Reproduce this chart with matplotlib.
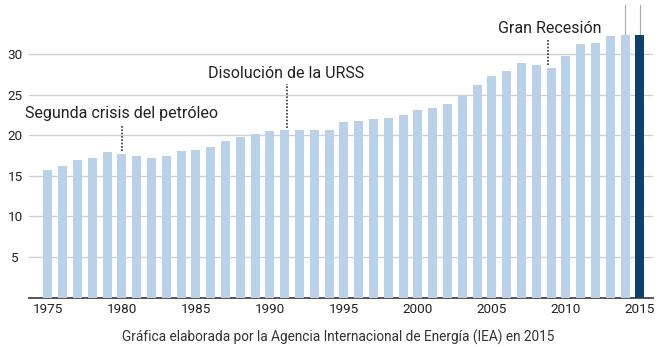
import matplotlib
matplotlib.use("Agg")
import matplotlib.pyplot as plt

plt.rcParams['font.family'] = ['Roboto', 'DejaVu Sans']

years = list(range(1975, 2016))
values = [15.7, 16.2, 16.9, 17.2, 17.9, 17.7, 17.4, 17.2, 17.5, 18.0,
          18.2, 18.6, 19.3, 19.8, 20.2, 20.5, 20.6, 20.7, 20.6, 20.7,
          21.6, 21.7, 22.0, 22.1, 22.5, 23.1, 23.4, 23.9, 24.9, 26.2,
          27.3, 27.9, 28.9, 28.7, 28.3, 29.8, 31.2, 31.4, 32.2, 32.3,
          32.4]
yticks = [5, 10, 15, 20, 25, 30]
xticks = [1975, 1980, 1985, 1990, 1995, 2000, 2005, 2010, 2015]
annotations = [
    ("Segunda crisis del petróleo", 1980, 1973.46, 22.08, 21.26, 0.0),
    ("Disolución de la URSS", 1991, 1985.82, 27.0, 26.27, 0.18),
    ("Gran Recesión", 2009, 2005.41, 32.63, 31.81, -0.23),
]
footer = "Gráfica elaborada por la Agencia Internacional de Energía (IEA) en 2015"

light = "#b9d2ea"
dark = "#0f3f6d"

fig = plt.figure(figsize=(6.6, 3.47), dpi=100)
ax = fig.add_axes([29 / 660, 49.3 / 347, (653 - 29) / 660, (347 - 49.3) / 347])

colors = [light] * (len(years) - 1) + [dark]
ax.bar(years, values, width=0.61, color=colors, zorder=3)

ax.set_ylim(0, 36.65)
ax.set_xlim(1973.73, 2015.88)
ax.set_yticks(yticks)
ax.set_xticks(xticks)
ax.yaxis.grid(True, color="#cfcfcf", linewidth=1.0, zorder=0)
ax.set_axisbelow(True)
for s in ["top", "right", "left"]:
    ax.spines[s].set_visible(False)
ax.spines["bottom"].set_color("#555555")
ax.spines["bottom"].set_linewidth(1.4)
ax.tick_params(axis="both", length=0, labelsize=9.7, colors="#222222")
ax.tick_params(axis="y", pad=10)
for lab in ax.get_yticklabels():
    lab.set_horizontalalignment("center")
ax.tick_params(axis="x", pad=4)

# annotations
for text, yr, tx, ty, top, dx in annotations:
    v = values[years.index(yr)]
    ax.plot([yr + dx, yr + dx], [v + 0.3, top], linestyle=(0, (1, 1)),
            color="#333333", linewidth=1.2, zorder=4)
    ax.text(tx, ty, text, fontsize=11.5, color="#222222", ha="left", va="baseline")

# leader lines above the last two bars
for yr in years[-2:]:
    v = values[years.index(yr)]
    ax.plot([yr, yr], [v, 36.05], color="#aaaaaa", linewidth=0.8, zorder=2,
            clip_on=False)

fig.text(338 / 660, 1 - 337 / 347, footer, ha="center", va="center",
         fontsize=9.8, color="#333333")

fig.savefig("out.png", dpi=100)
